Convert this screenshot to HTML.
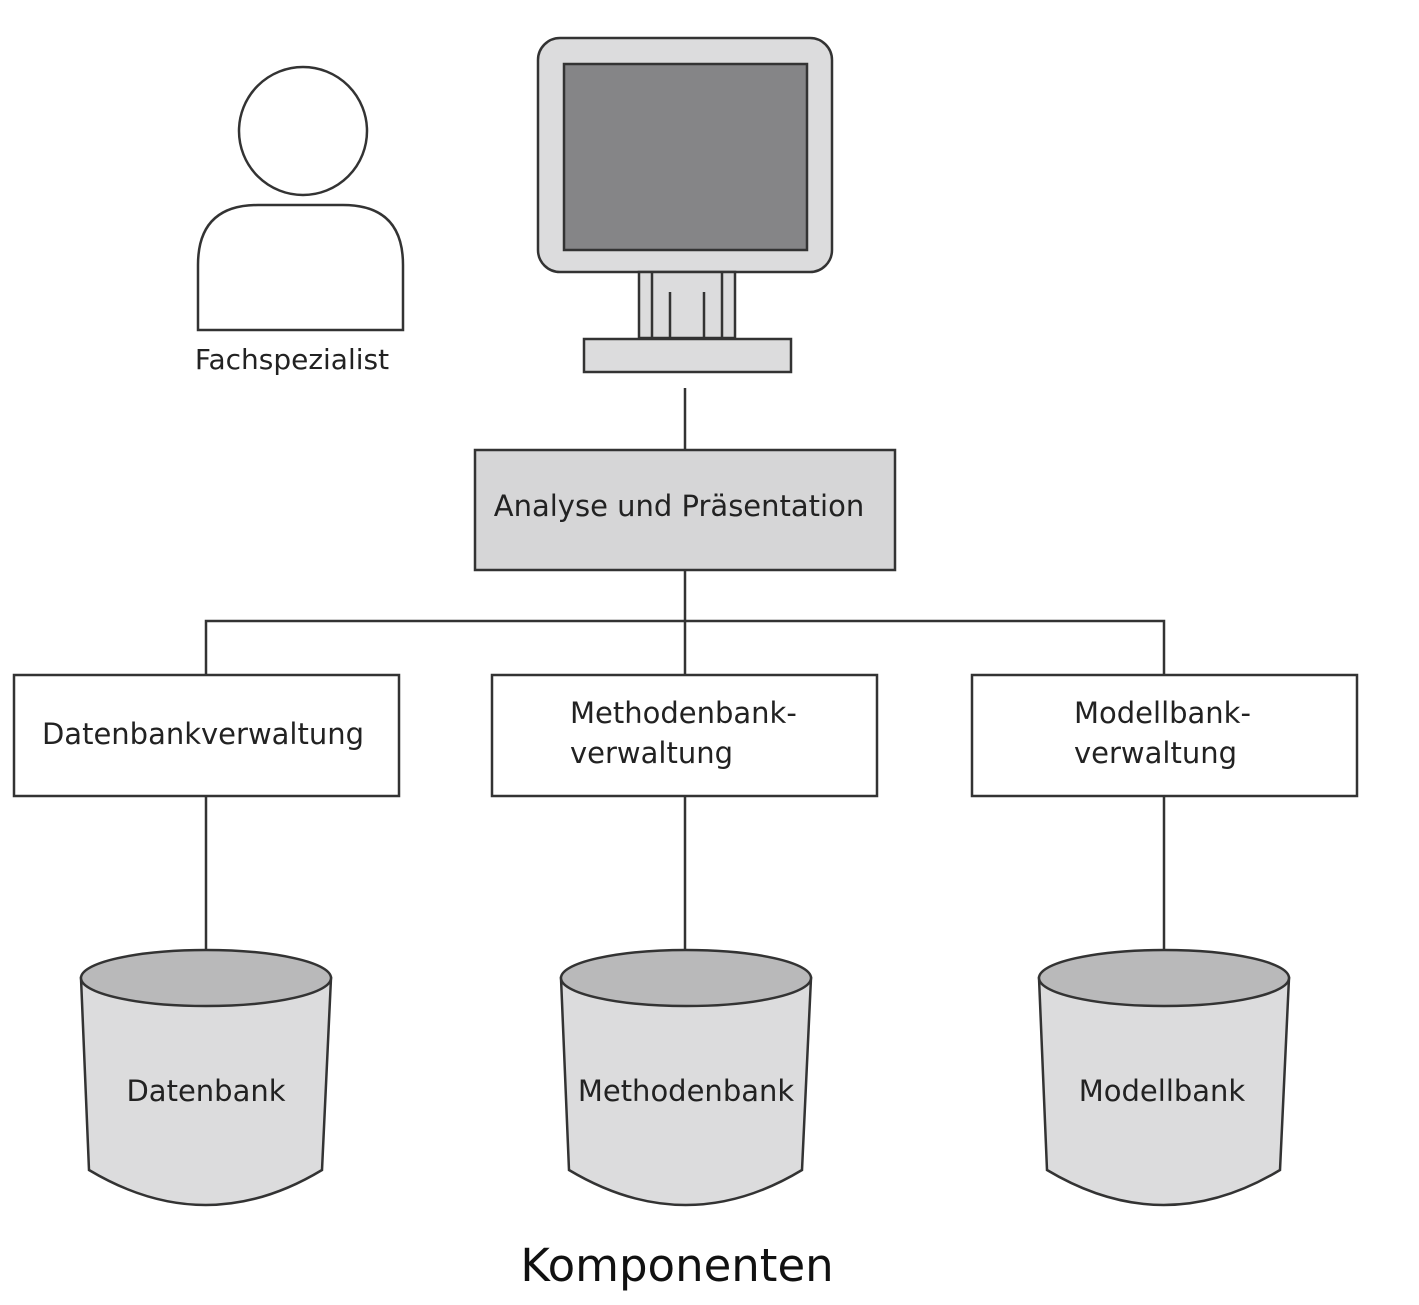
<!DOCTYPE html>
<html><head><style>body{margin:0;background:#fff}svg{display:block}text{font-family:"DejaVu Sans","Liberation Sans",sans-serif;fill:#222}</style></head>
<body>
<svg width="1419" height="1305" viewBox="0 0 1419 1305" xmlns="http://www.w3.org/2000/svg">
<g stroke="#333" stroke-width="2.5" fill="none">
<circle cx="303" cy="131" r="64" fill="#fff"/>
<path d="M198 330 V265 Q198 205 258 205 H343 Q403 205 403 265 V330 Z" fill="#fff"/>
<rect x="538" y="38" width="294" height="234" rx="22" fill="#dcdcdd"/>
<rect x="564" y="64" width="243" height="186" fill="#858587"/>
<rect x="639" y="272" width="96" height="66" fill="#dcdcdd"/>
<line x1="652" y1="272" x2="652" y2="338"/><line x1="722" y1="272" x2="722" y2="338"/>
<line x1="670" y1="292" x2="670" y2="338"/><line x1="704" y1="292" x2="704" y2="338"/>
<rect x="584" y="339" width="207" height="33" fill="#dcdcdd"/>
<line x1="685" y1="388" x2="685" y2="450"/>
<rect x="475" y="450" width="420" height="120" fill="#d6d6d7"/>
<line x1="685" y1="570" x2="685" y2="675"/>
<polyline points="206,675 206,621 1164,621 1164,675"/>
<rect x="14" y="675" width="385" height="121" fill="#fff"/>
<rect x="492" y="675" width="385" height="121" fill="#fff"/>
<rect x="972" y="675" width="385" height="121" fill="#fff"/>
<line x1="206" y1="796" x2="206" y2="950"/>
<line x1="685" y1="796" x2="685" y2="950"/>
<line x1="1164" y1="796" x2="1164" y2="950"/>
<g id="c">
<path d="M81 978 L89 1170 Q206 1240 322 1170 L331 978 Z" fill="#dcdcdd"/>
<ellipse cx="206" cy="978" rx="125" ry="28" fill="#b9b9ba"/>
</g>
<use href="#c" x="480"/>
<use href="#c" x="958"/>
</g>
<g font-size="29" text-anchor="middle">
<text x="292" y="369" font-size="28">Fachspezialist</text>
<text x="679" y="516">Analyse und Präsentation</text>
<text x="203" y="744">Datenbankverwaltung</text>
<text x="570" y="723" text-anchor="start">Methodenbank-</text>
<text x="570" y="763" text-anchor="start">verwaltung</text>
<text x="1074" y="723" text-anchor="start">Modellbank-</text>
<text x="1074" y="763" text-anchor="start">verwaltung</text>
<text x="206" y="1101">Datenbank</text>
<text x="686" y="1101">Methodenbank</text>
<text x="1162" y="1101">Modellbank</text>
<text x="677" y="1281" font-size="45" style="fill:#111">Komponenten</text>
</g>
</svg>
</body></html>
